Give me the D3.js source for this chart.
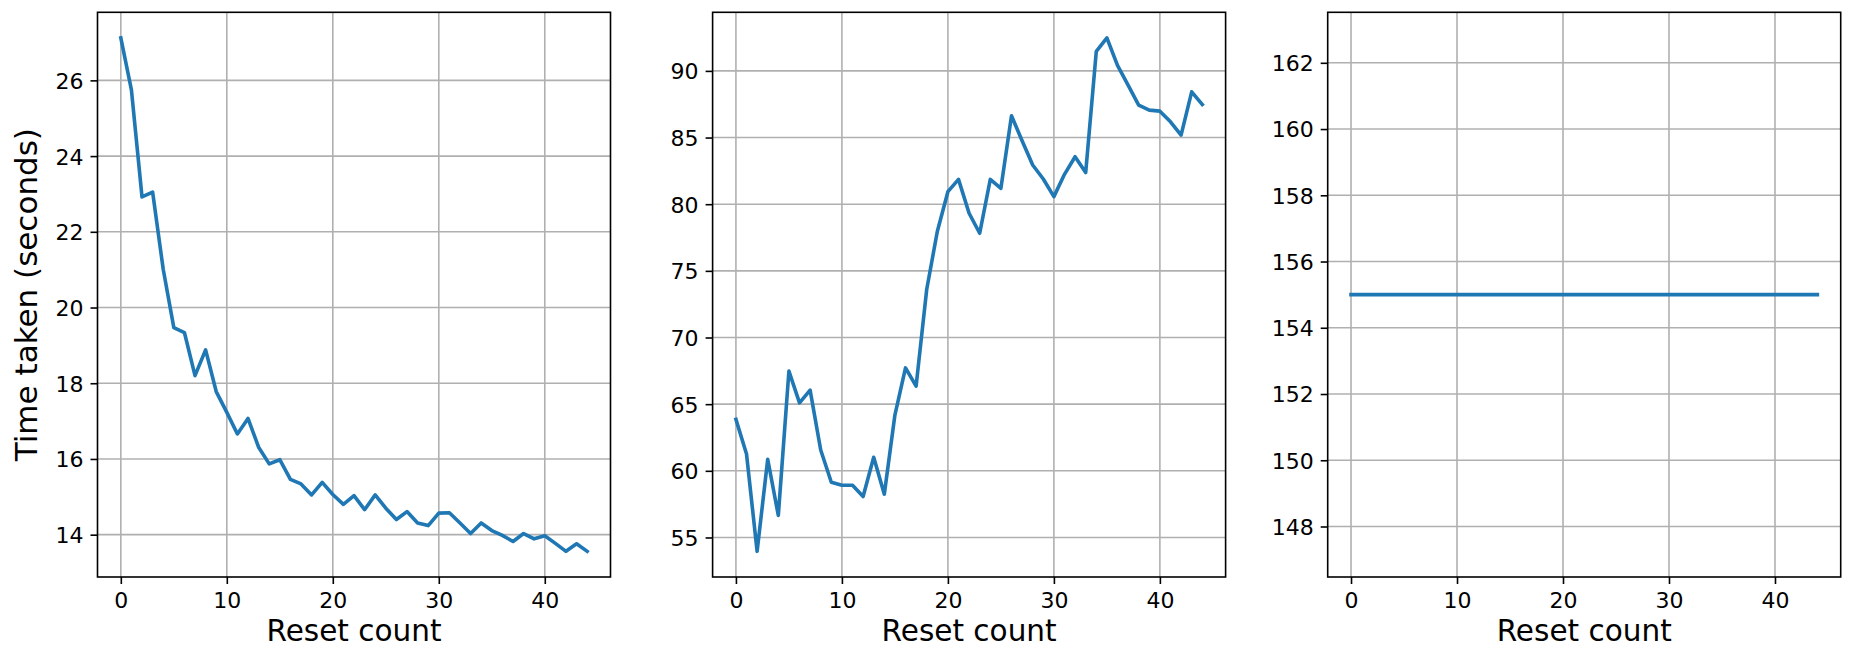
<!DOCTYPE html>
<html>
<head>
<meta charset="utf-8">
<script src="https://cdn.jsdelivr.net/npm/d3@7"></script>
<style>
  html, body { margin: 0; padding: 0; background: #ffffff; }
  svg { display: block; font-family: "DejaVu Sans", sans-serif; }
</style>
</head>
<body>
<svg id="chart" width="1853" height="648"></svg>
<script>
// ---- data ----
const resetCounts = d3.range(0, 45);
const timePanel1 = [27.12, 25.75, 22.92, 23.05, 21.01, 19.47, 19.34, 18.20, 18.88, 17.78,
  17.23, 16.66, 17.07, 16.31, 15.87, 15.98, 15.46, 15.34, 15.05, 15.38,
  15.06, 14.80, 15.03, 14.66, 15.05, 14.70, 14.40, 14.61, 14.31, 14.24,
  14.57, 14.58, 14.31, 14.03, 14.31, 14.11, 13.98, 13.82, 14.03, 13.89,
  13.97, 13.77, 13.56, 13.76, 13.56];
const timePanel2 = [63.86, 61.26, 53.96, 60.87, 56.65, 67.48, 65.10, 66.05, 61.56, 59.14,
  58.92, 58.92, 58.07, 61.02, 58.25, 64.18, 67.72, 66.35, 73.60, 77.95,
  80.94, 81.86, 79.32, 77.82, 81.86, 81.19, 86.63, 84.76, 82.94, 81.89,
  80.57, 82.24, 83.56, 82.37, 91.47, 92.47, 90.42, 88.93, 87.43, 87.06,
  86.98, 86.18, 85.18, 88.43, 87.48];
const timePanel3 = [155, 155, 155, 155, 155, 155, 155, 155, 155, 155,
  155, 155, 155, 155, 155, 155, 155, 155, 155, 155,
  155, 155, 155, 155, 155, 155, 155, 155, 155, 155,
  155, 155, 155, 155, 155, 155, 155, 155, 155, 155,
  155, 155, 155, 155, 155];
const xTicks = [0, 10, 20, 30, 40];
const yTicks1 = [14, 16, 18, 20, 22, 24, 26];
const yTicks2 = [55, 60, 65, 70, 75, 80, 85, 90];
const yTicks3 = [148, 150, 152, 154, 156, 158, 160, 162];
const xLabel = "Reset count";
const yLabel = "Time taken (seconds)";

const panels = [
  { values: timePanel1, yTicks: yTicks1, yLabel: yLabel },
  { values: timePanel2, yTicks: yTicks2, yLabel: null },
  { values: timePanel3, yTicks: yTicks3, yLabel: null }
];

// ---- layout ----
const svg = d3.select("#chart");
const firstLeft = 97.5, panelStep = 615.1, panelW = 513;
const plotTop = 12.3, plotBottom = 577;
const tickLen = 7, tickPad = 7;
const lineColor = "#1f77b4", gridColor = "#b0b0b0";

function autoDomain(vals) {
  const lo = d3.min(vals), hi = d3.max(vals);
  if (hi === lo) { const e = Math.abs(lo) * 0.05 * 1.1; return [lo - e, hi + e]; }
  const m = (hi - lo) * 0.05;
  return [lo - m, hi + m];
}

panels.forEach((p, i) => {
  const left = firstLeft + i * panelStep;
  const right = left + panelW;
  const xMin = d3.min(resetCounts), xMax = d3.max(resetCounts);
  const xm = (xMax - xMin) * 0.05;
  const x = d3.scaleLinear().domain([xMin - xm, xMax + xm]).range([left, right]);
  const y = d3.scaleLinear().domain(autoDomain(p.values)).range([plotBottom, plotTop]);

  const g = svg.append("g");

  // grid
  g.append("g").selectAll("line").data(xTicks).join("line")
    .attr("x1", d => x(d)).attr("x2", d => x(d))
    .attr("y1", plotTop).attr("y2", plotBottom)
    .attr("stroke", gridColor).attr("stroke-width", 1.6);
  g.append("g").selectAll("line").data(p.yTicks).join("line")
    .attr("x1", left).attr("x2", right)
    .attr("y1", d => y(d)).attr("y2", d => y(d))
    .attr("stroke", gridColor).attr("stroke-width", 1.6);

  // axes
  const xAxis = d3.axisBottom(x).tickValues(xTicks).tickSize(tickLen).tickPadding(tickPad).tickFormat(d3.format("d"));
  const yAxis = d3.axisLeft(y).tickValues(p.yTicks).tickSize(tickLen).tickPadding(tickPad).tickFormat(d3.format("d"));
  const gx = g.append("g").attr("transform", `translate(0,${plotBottom})`).call(xAxis);
  const gy = g.append("g").attr("transform", `translate(${left},0)`).call(yAxis);
  [gx, gy].forEach(a => {
    a.select(".domain").remove();
    a.selectAll(".tick line").attr("stroke", "#000").attr("stroke-width", 1.6);
    a.selectAll(".tick text").attr("fill", "#000").style("font-size", "22px")
      .style("font-family", "'DejaVu Sans', sans-serif");
  });
  gx.selectAll(".tick text").attr("dy", null).attr("y", 31);
  gy.selectAll(".tick text").attr("dy", "0.36em");

  // line
  const line = d3.line().x((d, j) => x(resetCounts[j])).y(d => y(d));
  g.append("path").datum(p.values)
    .attr("d", line).attr("fill", "none")
    .attr("stroke", lineColor).attr("stroke-width", 3.6)
    .attr("stroke-linejoin", "round").attr("stroke-linecap", "square");

  // frame
  g.append("rect").attr("x", left).attr("y", plotTop)
    .attr("width", right - left).attr("height", plotBottom - plotTop)
    .attr("fill", "none").attr("stroke", "#000").attr("stroke-width", 1.6);

  // x label
  g.append("text").attr("x", (left + right) / 2).attr("y", 641)
    .attr("text-anchor", "middle").style("font-size", "29.5px").attr("fill", "#000")
    .text(xLabel);

  if (p.yLabel) {
    g.append("text")
      .attr("transform", `translate(37,${(plotTop + plotBottom) / 2}) rotate(-90)`)
      .attr("text-anchor", "middle").style("font-size", "31px").attr("fill", "#000")
      .text(p.yLabel);
  }
});
</script>
</body>
</html>
